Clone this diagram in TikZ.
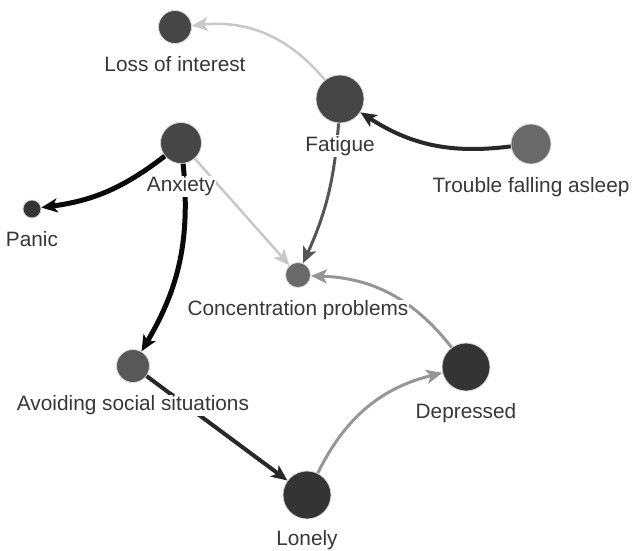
\documentclass[tikz,border=0pt]{standalone}
\usepackage{fontspec}
\setmainfont{Liberation Sans}
\usetikzlibrary{arrows.meta, positioning, calc}
\definecolor{symDark}{RGB}{52, 52, 52}
\definecolor{symMid}{RGB}{70, 70, 70}
\definecolor{symSoft}{RGB}{88, 88, 88}
\definecolor{symLight}{RGB}{105, 105, 105}
\definecolor{rimGray}{RGB}{215, 215, 215}
\definecolor{labelGray}{RGB}{55, 55, 55}
\definecolor{edgeBlack}{RGB}{10, 10, 10}
\definecolor{edgeDark}{RGB}{40, 40, 40}
\definecolor{edgeMid}{RGB}{85, 85, 85}
\definecolor{edgeGray}{RGB}{150, 150, 150}
\definecolor{edgeLight}{RGB}{200, 200, 200}
\tikzset{
  sym/.style={
    circle, inner sep=0pt,
    draw=rimGray, line width=0.8pt,
    fill=#1
  },
  lbl/.style={
    anchor=base, inner sep=1pt,
    fill=white, text=labelGray,
    font=\fontsize{20.8}{25}\selectfont
  },
  link/.style={
    -{Stealth[length=16pt,width=14pt,inset=4pt]},
    line width=#1
  }
}

\begin{document}
\begin{tikzpicture}[x=1pt, y=1pt]

  \useasboundingbox (0,0) rectangle (632,-550);

  % ── Symptom nodes ─────────────────────────────────────────────────────────
  \node[sym=symMid,   minimum size=33pt] (loss) at (175,-27)  {};
  \node[sym=symMid,   minimum size=48pt] (fat)  at (340,-99)  {};
  \node[sym=symLight, minimum size=40pt] (slp)  at (531,-144) {};
  \node[sym=symMid,   minimum size=41pt] (anx)  at (181,-143) {};
  \node[sym=symDark,  minimum size=18pt] (pan)  at (32,-209)  {};
  \node[sym=symLight, minimum size=25pt] (con)  at (298,-275) {};
  \node[sym=symSoft,  minimum size=33pt] (avo)  at (133,-366) {};
  \node[sym=symDark,  minimum size=48pt] (dep)  at (466,-367) {};
  \node[sym=symDark,  minimum size=48pt] (lon)  at (307,-495) {};

  % ── Edges ─────────────────────────────────────────────────────────────────
  \draw[link=2.5pt, edgeLight] (fat) to[bend right=28] (loss);
  \draw[link=4pt,   edgeDark]  (slp) to[bend left=20]  (fat);
  \draw[link=3pt,   edgeMid]   (fat) to[bend left=10]  (con);
  \draw[link=5pt,   edgeBlack] (anx) to[bend left=15]  (pan);
  \draw[link=2.5pt, edgeLight] (anx) -- (con);
  \draw[link=5pt,   edgeBlack] (anx) to[bend left=18]  (avo);
  \draw[link=4pt,   edgeDark]  (avo) -- (lon);
  \draw[link=3pt,   edgeGray]  (lon) to[bend left=25]  (dep);
  \draw[link=3pt,   edgeGray]  (dep) to[bend right=25] (con);

  % ── Labels (on top of the edges) ─────────────────────────────────────────
  \node[lbl] (lossL) at ($(loss.south)+(0,-28)$) {Loss of interest};
  \node[lbl] (fatL)  at ($(fat.south)+(0,-28)$)  {Fatigue};
  \node[lbl] (slpL)  at ($(slp.south)+(0,-28)$)  {Trouble falling asleep};
  \node[lbl] (anxL)  at ($(anx.south)+(0,-28)$)  {Anxiety};
  \node[lbl] (panL)  at ($(pan.south)+(0,-28)$)  {Panic};
  \node[lbl] (conL)  at ($(con.south)+(0,-28)$)  {Concentration problems};
  \node[lbl] (avoL)  at ($(avo.south)+(0,-28)$)  {Avoiding social situations};
  \node[lbl] (depL)  at ($(dep.south)+(0,-27)$)  {Depressed};
  \node[lbl] (lonL)  at ($(lon.south)+(0,-26)$)  {Lonely};

\end{tikzpicture}
\end{document}
